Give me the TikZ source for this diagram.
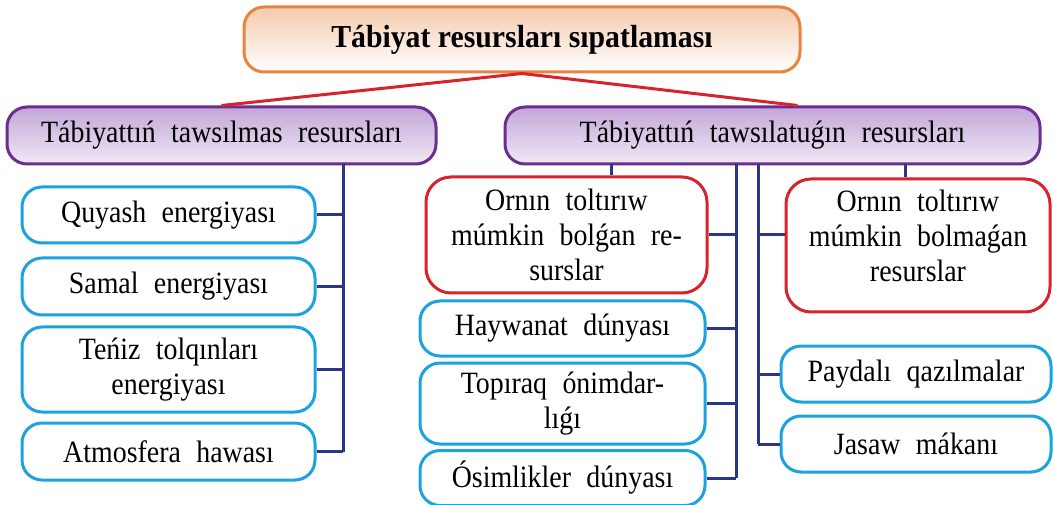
\documentclass[tikz,border=0pt]{standalone}
\usepackage{fontspec}
\setmainfont{Liberation Serif}
\newfontfamily\boxfont{Liberation Serif}[WordSpace=2.2, FakeStretch=0.9]
\newfontfamily\titlefont{Liberation Serif}[FakeStretch=0.93]
\usepackage{tikz}

\definecolor{titleline}{HTML}{E8843F}
\definecolor{titlefill}{HTML}{F4CBAD}
\definecolor{headline}{HTML}{6B2D8F}
\definecolor{headfill}{HTML}{C3A6D8}
\definecolor{resred}{HTML}{D7232A}
\definecolor{leafblue}{HTML}{1AA3DF}
\definecolor{linkblue}{HTML}{2B358A}

\begin{document}
\begin{tikzpicture}[
    box/.style={draw, rounded corners=20pt, line width=3pt, align=center,
                inner sep=0pt, font=\boxfont\fontsize{31}{35}\selectfont},
    titlebox/.style={box, draw=titleline, top color=titlefill, middle color=titlefill,
                     bottom color=white, font=\titlefont\fontsize{32}{35}\selectfont\bfseries},
    head/.style={box, draw=headline, top color=headfill, middle color=headfill,
                 bottom color=headfill!25, minimum height=57},
    res/.style={box, draw=resred, fill=white, rounded corners=25pt},
    leaf/.style={box, draw=leafblue, fill=white},
    link/.style={draw=linkblue, line width=3pt},
    tie/.style={draw=resred, line width=3pt},
    x=1pt, y=-1pt
  ]
  \useasboundingbox (0,0) rectangle (1053,505);
  % title
  \node[titlebox, minimum width=556, minimum height=65] (title) at (522,39.5)
    {Tábiyat resursları sıpatlaması};
  % two groups
  \node[head, minimum width=429] (lhead) at (221.5,135.5) {Tábiyattıń tawsılmas resursları};
  \node[head, minimum width=535] (rhead) at (772.5,135.5) {Tábiyattıń tawsılatuǵın resursları};
  \draw[tie] (lhead.north) -- (title.south) -- ([xshift=25pt]rhead.north);
  % trunks
  \coordinate (t0) at (343,164);
  \coordinate (t1) at (736,164);
  \coordinate (t2) at (758,164);
  \coordinate (s1) at (611,164);
  \coordinate (s2) at (905,164);
  % inexhaustible
  \foreach \n/\y/\h/\lbl in {quyash/215/56/Quyash energiyası, samal/286.5/57/Samal energiyası,
      teniz/369.5/85/{Teńiz tolqınları\\ energiyası}, atmos/451.5/57/Atmosfera hawası} {
    \node[leaf, minimum width=293, minimum height=\h] (\n) at (168.5,\y) {\lbl};
    \draw[link] (\n.east) -- (\n.east -| t0);
  }
  \draw[link] (t0) -- (t0 |- atmos.east);
  % renewable
  \node[res, minimum width=281, minimum height=116] (renew) at (566.5,235)
    {Ornın toltırıw\\ múmkin bolǵan re-\\ surslar};
  \foreach \n/\y/\h/\lbl in {haywan/328.5/55/Haywanat dúnyası,
      topiraq/403.5/81/{Topıraq ónimdar-\\ lıǵı}, osim/478/55/Ósimlikler dúnyası} {
    \node[leaf, minimum width=285, minimum height=\h] (\n) at (562.5,\y) {\lbl};
    \draw[link] (\n.east) -- (\n.east -| t1);
  }
  \draw[link] (renew.east) -- (renew.east -| t1);
  \draw[link] (t1) -- (t1 |- osim.east);
  \draw[link] (s1) -- (s1 |- renew.north);
  % non-renewable
  \node[res, minimum width=264, minimum height=133, text depth=20pt] (nonrenew) at (918,245.5)
    {Ornın toltırıw\\ múmkin bolmaǵan\\ resurslar};
  \foreach \n/\y/\lbl in {paydali/374/Paydalı qazılmalar, jasaw/444/Jasaw mákanı} {
    \node[leaf, minimum width=270, minimum height=56] (\n) at (916,\y) {\lbl};
    \draw[link] (\n.west) -- (\n.west -| t2);
  }
  \draw[link] (renew.east -| t2) -- (renew.east -| nonrenew.west);
  \draw[link] (t2) -- (t2 |- jasaw.west);
  \draw[link] (s2) -- (s2 |- nonrenew.north);
\end{tikzpicture}
\end{document}
